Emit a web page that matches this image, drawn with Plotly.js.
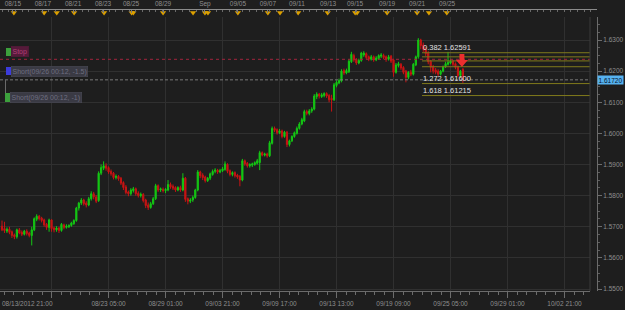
<!DOCTYPE html>
<html><head><meta charset="utf-8">
<script src="https://cdn.plot.ly/plotly-3.0.1.min.js"></script>
<style>html,body{margin:0;padding:0;background:#1e1e1e;}#chart{width:625px;height:310px;}</style>
</head><body><div id="chart"></div>
<script>
// ---- H4 candles, 08/13/2012 21:00 onward ----
const opens = [1.5702,1.5694,1.5686,1.5692,1.5684,1.5674,1.5668,1.5690,1.5682,1.5676,
1.5686,1.5680,1.5672,1.5690,1.5724,1.5734,1.5728,1.5722,1.5708,1.5698,
1.5722,1.5696,1.5690,1.5696,1.5688,1.5706,1.5698,1.5700,1.5704,1.5710,
1.5720,1.5760,1.5776,1.5786,1.5776,1.5770,1.5790,1.5806,1.5796,1.5784,
1.5872,1.5888,1.5896,1.5890,1.5878,1.5872,1.5858,1.5862,1.5856,1.5842,
1.5828,1.5812,1.5806,1.5816,1.5822,1.5808,1.5800,1.5804,1.5786,1.5770,
1.5762,1.5774,1.5790,1.5832,1.5818,1.5820,1.5816,1.5818,1.5836,1.5830,
1.5826,1.5818,1.5826,1.5818,1.5856,1.5790,1.5782,1.5786,1.5794,1.5818,
1.5876,1.5866,1.5860,1.5848,1.5856,1.5868,1.5878,1.5882,1.5876,1.5880,
1.5884,1.5900,1.5880,1.5868,1.5874,1.5866,1.5862,1.5850,1.5912,1.5904,
1.5896,1.5898,1.5900,1.5904,1.5906,1.5938,1.5930,1.5934,1.5928,1.5968,
1.6016,1.6012,1.6002,1.6008,1.5990,1.6004,1.5964,1.5976,1.5990,1.6000,
1.6016,1.6030,1.6040,1.6070,1.6064,1.6072,1.6078,1.6118,1.6126,1.6118,
1.6122,1.6128,1.6122,1.6112,1.6108,1.6154,1.6162,1.6168,1.6202,1.6194,
1.6198,1.6230,1.6250,1.6238,1.6226,1.6234,1.6252,1.6256,1.6246,1.6238,
1.6246,1.6236,1.6240,1.6248,1.6250,1.6246,1.6238,1.6248,1.6236,1.6196,
1.6218,1.6222,1.6212,1.6200,1.6180,1.6196,1.6190,1.6220,1.6246,1.6300,
1.6284,1.6272,1.6258,1.6232,1.6214,1.6204,1.6200,1.6190,1.6200,1.6214,
1.6222,1.6226,1.6232,1.6224,1.6214,1.6186,1.6206];
const highs = [1.5720,1.5716,1.5698,1.5700,1.5688,1.5678,1.5694,1.5696,1.5688,1.5690,
1.5692,1.5684,1.5700,1.5730,1.5740,1.5738,1.5732,1.5726,1.5712,1.5726,
1.5724,1.5700,1.5702,1.5700,1.5712,1.5710,1.5708,1.5708,1.5716,1.5724,
1.5764,1.5780,1.5792,1.5790,1.5782,1.5796,1.5814,1.5812,1.5802,1.5878,
1.5900,1.5910,1.5904,1.5894,1.5884,1.5876,1.5868,1.5866,1.5860,1.5846,
1.5834,1.5816,1.5824,1.5828,1.5826,1.5814,1.5810,1.5808,1.5790,1.5778,
1.5780,1.5796,1.5838,1.5836,1.5826,1.5826,1.5824,1.5850,1.5842,1.5836,
1.5830,1.5830,1.5832,1.5872,1.5860,1.5794,1.5792,1.5800,1.5822,1.5882,
1.5880,1.5872,1.5864,1.5860,1.5874,1.5884,1.5888,1.5886,1.5886,1.5892,
1.5910,1.5904,1.5884,1.5878,1.5878,1.5870,1.5866,1.5918,1.5916,1.5908,
1.5904,1.5906,1.5910,1.5918,1.5944,1.5942,1.5938,1.5938,1.5976,1.6022,
1.6022,1.6016,1.6014,1.6012,1.6008,1.6008,1.5980,1.5994,1.6006,1.6022,
1.6036,1.6050,1.6076,1.6076,1.6078,1.6084,1.6126,1.6132,1.6130,1.6130,
1.6132,1.6132,1.6126,1.6124,1.6162,1.6170,1.6176,1.6206,1.6208,1.6208,
1.6238,1.6262,1.6256,1.6242,1.6240,1.6262,1.6264,1.6260,1.6250,1.6252,
1.6250,1.6248,1.6254,1.6258,1.6256,1.6250,1.6252,1.6252,1.6240,1.6226,
1.6230,1.6226,1.6216,1.6204,1.6200,1.6204,1.6226,1.6250,1.6306,1.6304,
1.6292,1.6278,1.6264,1.6236,1.6220,1.6210,1.6206,1.6204,1.6218,1.6230,
1.6262,1.6240,1.6236,1.6228,1.6218,1.6204,1.6210];
const lows = [1.5686,1.5680,1.5680,1.5676,1.5664,1.5660,1.5662,1.5676,1.5670,1.5672,
1.5672,1.5666,1.5640,1.5686,1.5718,1.5720,1.5714,1.5700,1.5690,1.5684,
1.5684,1.5682,1.5684,1.5680,1.5684,1.5692,1.5694,1.5696,1.5700,1.5706,
1.5716,1.5752,1.5770,1.5768,1.5762,1.5766,1.5784,1.5788,1.5776,1.5780,
1.5866,1.5882,1.5880,1.5870,1.5864,1.5852,1.5852,1.5848,1.5834,1.5818,
1.5804,1.5798,1.5800,1.5810,1.5800,1.5794,1.5794,1.5778,1.5760,1.5754,
1.5758,1.5770,1.5786,1.5812,1.5812,1.5810,1.5808,1.5814,1.5822,1.5818,
1.5812,1.5814,1.5812,1.5814,1.5780,1.5772,1.5776,1.5780,1.5790,1.5814,
1.5856,1.5850,1.5842,1.5844,1.5850,1.5864,1.5872,1.5870,1.5872,1.5876,
1.5880,1.5872,1.5862,1.5862,1.5858,1.5854,1.5830,1.5846,1.5896,1.5890,
1.5890,1.5892,1.5896,1.5900,1.5882,1.5926,1.5926,1.5922,1.5924,1.5964,
1.6004,1.5996,1.5998,1.5984,1.5986,1.5956,1.5958,1.5972,1.5986,1.5996,
1.6012,1.6026,1.6036,1.6058,1.6058,1.6066,1.6074,1.6110,1.6112,1.6114,
1.6116,1.6114,1.6100,1.6070,1.6104,1.6148,1.6158,1.6164,1.6188,1.6190,
1.6194,1.6226,1.6230,1.6220,1.6222,1.6230,1.6246,1.6238,1.6232,1.6234,
1.6230,1.6232,1.6236,1.6242,1.6238,1.6230,1.6234,1.6226,1.6182,1.6192,
1.6212,1.6204,1.6190,1.6164,1.6174,1.6184,1.6186,1.6216,1.6240,1.6270,
1.6262,1.6248,1.6222,1.6196,1.6192,1.6190,1.6184,1.6186,1.6196,1.6210,
1.6218,1.6222,1.6216,1.6206,1.6180,1.6180,1.6162];
const closes = [1.5690,1.5688,1.5692,1.5682,1.5672,1.5668,1.5690,1.5680,1.5676,1.5686,
1.5678,1.5672,1.5690,1.5726,1.5734,1.5726,1.5720,1.5706,1.5698,1.5722,
1.5694,1.5690,1.5696,1.5688,1.5708,1.5698,1.5702,1.5704,1.5712,1.5720,
1.5760,1.5776,1.5786,1.5774,1.5770,1.5790,1.5806,1.5796,1.5782,1.5872,
1.5890,1.5896,1.5888,1.5876,1.5870,1.5858,1.5862,1.5854,1.5840,1.5826,
1.5810,1.5806,1.5818,1.5822,1.5806,1.5800,1.5804,1.5784,1.5768,1.5762,
1.5774,1.5790,1.5832,1.5818,1.5822,1.5816,1.5820,1.5836,1.5828,1.5824,
1.5818,1.5826,1.5818,1.5856,1.5788,1.5782,1.5786,1.5794,1.5818,1.5876,
1.5864,1.5858,1.5848,1.5856,1.5870,1.5878,1.5882,1.5876,1.5880,1.5886,
1.5902,1.5878,1.5868,1.5874,1.5864,1.5860,1.5850,1.5912,1.5902,1.5896,
1.5900,1.5902,1.5906,1.5912,1.5938,1.5930,1.5934,1.5928,1.5970,1.6016,
1.6010,1.6002,1.6008,1.5990,1.6004,1.5964,1.5976,1.5990,1.6002,1.6016,
1.6030,1.6044,1.6070,1.6064,1.6072,1.6078,1.6120,1.6126,1.6120,1.6124,
1.6128,1.6120,1.6108,1.6108,1.6156,1.6164,1.6170,1.6200,1.6194,1.6202,
1.6232,1.6254,1.6236,1.6226,1.6234,1.6258,1.6258,1.6244,1.6238,1.6246,
1.6236,1.6242,1.6250,1.6252,1.6244,1.6238,1.6246,1.6232,1.6196,1.6220,
1.6224,1.6210,1.6196,1.6180,1.6196,1.6190,1.6222,1.6246,1.6300,1.6282,
1.6270,1.6256,1.6230,1.6212,1.6200,1.6196,1.6190,1.6200,1.6214,1.6224,
1.6228,1.6232,1.6222,1.6212,1.6186,1.6200,1.6172];

// bottom time axis (candle index -> label)
const timeTickIdx = [20,43,66,89,112,135,158,181,204,227];
const timeTickText = ['','08/23 05:00','08/29 01:00','09/03 21:00','09/09 17:00','09/13 13:00','09/19 09:00','09/25 05:00','09/29 01:00','10/02 21:00'];
const firstTimeLabel = '08/13/2012 21:00';

// top calendar strip
const dayLabels = ['08/15','08/17','08/21','08/23','08/25','08/29','Sep','09/05','09/07','09/11','09/13','09/15','09/19','09/21','09/25'];
const dayLabelIdx = [4.4,16.5,28.7,40.8,52.1,65,81.9,95.2,107.3,119,131.6,142.5,155.4,167.5,179.6];
const eventIdx = [4.8,17,22.1,29.1,41.2,52.3,53,65,77.1,81.9,83.1,95.2,107.3,112.2,119.5,131.4,142.5,143.3,155.4,167.5,172.3,179.5];

// fibonacci tool
const fibLevel0 = 1.63016, fibLevel1 = 1.61903;
const fibRatios = [0.382,0.5,0.618,0.786,1.272,1.618];
const fibLabelRatios = [0.382,1.272,1.618];
const fibStartIdx = 169.5;

// order objects
const stopPrice = 1.6238;
const sellArrowIdx = 185.6, sellArrowTop = 1.6255, sellArrowMid = 1.62357, sellArrowBottom = 1.62132;
const orderLabels = ['Stop','Short(09/26 00:12, -1.5)','Short(09/26 00:12, -1)'];

// ---- geometry helpers (pixel -> paper) ----
const W = 625, H = 310, ML = 0, MR = 28, MT = 10, MB = 19;
const PW = W - ML - MR, PH = H - MT - MB; // 597 x 281
const plotRightPx = 590, plotTopPx = 17;
const xDomEnd = plotRightPx / PW;
const yDomEnd = (H - MB - plotTopPx) / PH;
const px = v => v / PW;
const py = v => (H - MB - v) / PH;
const idxPerPx = 1 / 2.478;
const xMin = -2 * idxPerPx, xMax = (plotRightPx - 2) * idxPerPx;
const x2Max = (PW - 2) * idxPerPx;

const idx = opens.map((_, i) => i);
const last = closes[closes.length - 1];
const font = 'Liberation Sans, Arial, sans-serif';
const tickFont = {family: font, size: 6.5, color: '#8e8e8e'};

const traces = [
  {type: 'candlestick', x: idx, open: opens, high: highs, low: lows, close: closes,
   xaxis: 'x', yaxis: 'y', whiskerwidth: 0, hoverinfo: 'skip',
   increasing: {line: {color: '#14c814', width: 1}, fillcolor: '#14c814'},
   decreasing: {line: {color: '#c81414', width: 1}, fillcolor: '#c81414'}},
  {type: 'scatter', mode: 'markers', x: eventIdx, y: eventIdx.map(() => 0.62),
   xaxis: 'x2', yaxis: 'y2', cliponaxis: false, hoverinfo: 'skip',
   marker: {symbol: 'triangle-down', size: 5.5, color: '#dca000', line: {width: 0}}}
];

const shapes = [];
shapes.push({type: 'line', xref: 'paper', yref: 'y', x0: 0, x1: xDomEnd, y0: stopPrice, y1: stopPrice,
  line: {color: '#a2243c', width: 1, dash: 'dot'}});
fibRatios.forEach(r => {
  const lv = fibLevel0 - r * (fibLevel0 - fibLevel1);
  shapes.push({type: 'line', xref: 'x', yref: 'y', x0: fibStartIdx, x1: xMax, y0: lv, y1: lv,
    line: {color: '#807a1c', width: 1}});
});
shapes.push({type: 'line', xref: 'paper', yref: 'y', x0: 0, x1: xDomEnd, y0: last, y1: last,
  line: {color: '#7a7a7a', width: 1, dash: '3px,2px'}});
shapes.push({type: 'line', xref: 'paper', yref: 'paper', x0: xDomEnd, x1: xDomEnd, y0: 0, y1: yDomEnd,
  line: {color: '#3a3a3a', width: 1}});
shapes.push({type: 'line', xref: 'paper', yref: 'paper', x0: px(5.5), x1: px(5.5), y0: py(80), y1: py(95),
  line: {color: '#6a6a6a', width: 1}});
const a = sellArrowIdx;
shapes.push({type: 'path', xref: 'x', yref: 'y', fillcolor: '#ec2e2e', line: {width: 0},
  path: `M${a-1},${sellArrowTop} L${a+1},${sellArrowTop} L${a+1},${sellArrowMid} L${a+2.4},${sellArrowMid} L${a},${sellArrowBottom} L${a-2.4},${sellArrowMid} L${a-1},${sellArrowMid} Z`});
const sq = [[6,11,48,56,'#3ca03c'],[6,11,67,75,'#3c3cdc'],[5,10,93,102,'#3ca03c']];
sq.forEach(s => shapes.push({type: 'rect', xref: 'paper', yref: 'paper', x0: px(s[0]), x1: px(s[1]),
  y0: py(s[3]), y1: py(s[2]), fillcolor: s[4], line: {width: 0}}));

const annotations = [];
fibLabelRatios.forEach(r => {
  const lv = fibLevel0 - r * (fibLevel0 - fibLevel1);
  annotations.push({xref: 'x', yref: 'y', x: fibStartIdx, y: lv, xanchor: 'left', yanchor: 'bottom',
    text: r.toFixed(3) + ' ' + lv.toFixed(5), showarrow: false, borderpad: 0, yshift: 0,
    font: {family: font, size: 7.5, color: '#e2e2e2'}});
});
annotations.push({xref: 'paper', yref: 'y', x: 1, y: last, xanchor: 'left', yanchor: 'middle',
  text: last.toFixed(5), showarrow: false, bgcolor: '#56b2f0', borderpad: 0.5,
  font: {family: font, size: 6.5, color: '#06122a'}});
annotations.push({xref: 'paper', yref: 'paper', x: 0, y: py(303.5), xanchor: 'left', yanchor: 'middle',
  text: firstTimeLabel, showarrow: false, font: tickFont});
const boxes = [
  {t: orderLabels[0], x: 11, y: 51.5, bg: '#561a3a', fc: '#b04078', bc: '#561a3a'},
  {t: orderLabels[1], x: 11, y: 71, bg: '#3a3a44', fc: '#6e6e80', bc: '#4c4c58'},
  {t: orderLabels[2], x: 10, y: 97.5, bg: '#3a3a44', fc: '#6e6e80', bc: '#4c4c58'}
];
boxes.forEach(b => annotations.push({xref: 'paper', yref: 'paper', x: px(b.x), y: py(b.y),
  xanchor: 'left', yanchor: 'middle', text: b.t, showarrow: false, bgcolor: b.bg,
  bordercolor: b.bc, borderwidth: 0.5, borderpad: 1, font: {family: font, size: 7, color: b.fc}}));

const layout = {
  width: W, height: H, margin: {l: ML, r: MR, t: MT, b: MB},
  paper_bgcolor: '#1e1e1e', plot_bgcolor: '#1e1e1e', showlegend: false,
  boxgap: 0.32,
  xaxis: {domain: [0, xDomEnd], anchor: 'y', range: [xMin, xMax], rangeslider: {visible: false},
    tickmode: 'array', tickvals: timeTickIdx, ticktext: timeTickText, tickfont: tickFont,
    ticks: 'outside', ticklen: 6, tickcolor: '#6c6c6c', showline: true, linecolor: '#6c6c6c', linewidth: 1,
    showgrid: true, gridcolor: '#303030', gridwidth: 1, zeroline: false, fixedrange: true,
    minor: {ticks: 'outside', ticklen: 3, tickcolor: '#6c6c6c', tick0: 20, dtick: 23/6, showgrid: false}},
  yaxis: {domain: [0, yDomEnd], anchor: 'free', position: 1, side: 'right',
    range: [1.54936, 1.63739], tick0: 1.55, dtick: 0.01, tickformat: '.4f', tickfont: tickFont,
    ticks: 'outside', ticklen: 4, tickcolor: '#6c6c6c', showline: true, linecolor: '#6c6c6c',
    showgrid: true, gridcolor: '#303030', zeroline: false, fixedrange: true,
    minor: {ticks: 'outside', ticklen: 2, tickcolor: '#5c5c5c', dtick: 0.0025, showgrid: false}},
  xaxis2: {domain: [0, 1], anchor: 'y2', side: 'top', range: [xMin, x2Max],
    tickmode: 'array', tickvals: dayLabelIdx, ticktext: dayLabels, tickfont: tickFont,
    ticks: 'inside', ticklen: 3, tickcolor: '#7a7a7a', showline: true, linecolor: '#8a8a8a',
    showgrid: false, zeroline: false, fixedrange: true,
    minor: {ticks: 'inside', ticklen: 2, tickcolor: '#6a6a6a', tick0: 0, dtick: 2.7, showgrid: false}},
  yaxis2: {domain: [yDomEnd, 1], anchor: 'x2', range: [0, 1], visible: false, fixedrange: true},
  shapes: shapes, annotations: annotations
};

Plotly.newPlot('chart', traces, layout, {staticPlot: true, displayModeBar: false});
</script>
</body></html>
